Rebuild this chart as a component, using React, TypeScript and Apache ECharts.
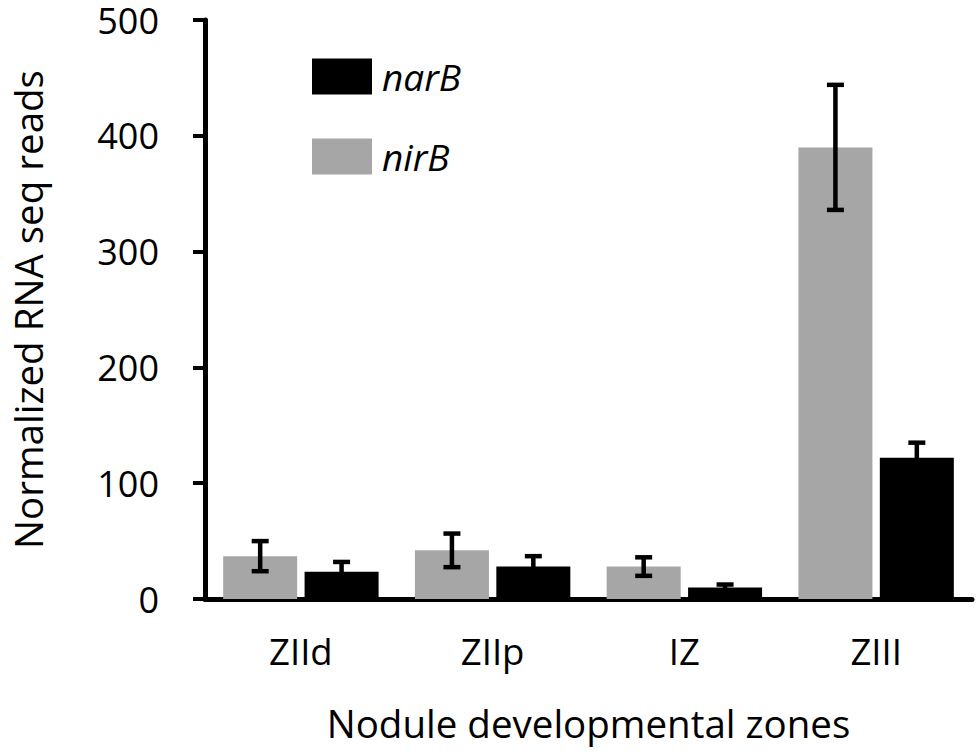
import React, { useEffect, useRef } from "react";
import * as echarts from "echarts";

const categories = ["ZIId", "ZIIp", "IZ", "ZIII"];
const nirB = [37, 42, 28, 390];
const nirBErr = [13, 14.5, 8, 54];
const narB = [23.5, 28, 10, 122];
const narBErr = [8.5, 9, 2.5, 13];
const yTicks = { min: 0, max: 500, interval: 100 };

const FONT = "Open Sans";
const GRAY = "#a6a6a6";
const BLACK = "#000000";
const BAR_W = 74;
const BAR_GAP = 0.1;

function errData(means: number[], errs: number[]) {
  return means.map((m, i) => [i, m - errs[i], m + errs[i]]);
}

function makeRender(sign: number) {
  return (params: any, api: any) => {
    const i = api.value(0);
    const lo = api.coord([i, api.value(1)]);
    const hi = api.coord([i, api.value(2)]);
    const off = sign * (BAR_W * (1 + BAR_GAP)) / 2;
    const x = lo[0] + off;
    const cap = 8.5;
    const style = { stroke: "#000", lineWidth: 4.5 };
    return {
      type: "group",
      children: [
        { type: "line", shape: { x1: x, y1: lo[1], x2: x, y2: hi[1] }, style },
        { type: "line", shape: { x1: x - cap, y1: hi[1], x2: x + cap, y2: hi[1] }, style },
        { type: "line", shape: { x1: x - cap, y1: lo[1], x2: x + cap, y2: lo[1] }, style },
      ],
    };
  };
}

export default function App() {
  const ref = useRef<HTMLDivElement>(null);
  useEffect(() => {
    document.body.style.margin = "0";
    const chart = echarts.init(ref.current!, null, { renderer: "svg" });
    chart.setOption({
      animation: false,
      textStyle: { fontFamily: FONT, color: "#000" },
      grid: { left: 199, right: 5, top: 20, bottom: 153, containLabel: false },
      legend: {
        data: ["narB", "nirB"],
        orient: "vertical",
        left: 312,
        top: 58,
        padding: 0,
        itemWidth: 60,
        itemHeight: 36,
        itemGap: 43,
        icon: "rect",
        textStyle: { fontFamily: FONT, fontSize: 37, fontStyle: "italic", color: "#000", padding: [0, 0, 0, 5] },
      },
      xAxis: {
        type: "category",
        data: categories,
        name: "Nodule developmental zones",
        nameLocation: "middle",
        nameGap: 104,
        nameTextStyle: { fontFamily: FONT, fontSize: 38.5, color: "#000" },
        axisLine: { lineStyle: { color: "#000", width: 5 } },
        axisTick: { show: false },
        axisLabel: { fontFamily: FONT, fontSize: 36.5, color: "#000", margin: 33 },
      },
      yAxis: {
        type: "value",
        min: yTicks.min,
        max: yTicks.max,
        interval: yTicks.interval,
        name: "Normalized RNA seq reads",
        nameLocation: "middle",
        nameGap: 158,
        nameTextStyle: { fontFamily: FONT, fontSize: 38.5, color: "#000" },
        axisLine: { show: true, lineStyle: { color: "#000", width: 5 } },
        axisTick: { show: true, length: 12, lineStyle: { color: "#000", width: 4 } },
        axisLabel: { fontFamily: FONT, fontSize: 36, lineHeight: 30, color: "#000", margin: 46 },
        splitLine: { show: false },
      },
      series: [
        {
          name: "nirB",
          type: "bar",
          data: nirB,
          barWidth: BAR_W,
          barGap: `${BAR_GAP * 100}%`,
          itemStyle: { color: GRAY },
        },
        {
          name: "narB",
          type: "bar",
          data: narB,
          barWidth: BAR_W,
          barGap: `${BAR_GAP * 100}%`,
          itemStyle: { color: BLACK },
        },
        {
          name: "nirB err",
          type: "custom",
          data: errData(nirB, nirBErr),
          encode: { x: 0, y: [1, 2] },
          renderItem: makeRender(-1),
          z: 10,
        },
        {
          name: "narB err",
          type: "custom",
          data: errData(narB, narBErr),
          encode: { x: 0, y: [1, 2] },
          renderItem: makeRender(1),
          z: 10,
        },
      ],
    });
    return () => chart.dispose();
  }, []);
  return (
    <div
      ref={ref}
      style={{ position: "fixed", left: 0, top: 0, width: 977, height: 752, background: "#fff" }}
    />
  );
}
